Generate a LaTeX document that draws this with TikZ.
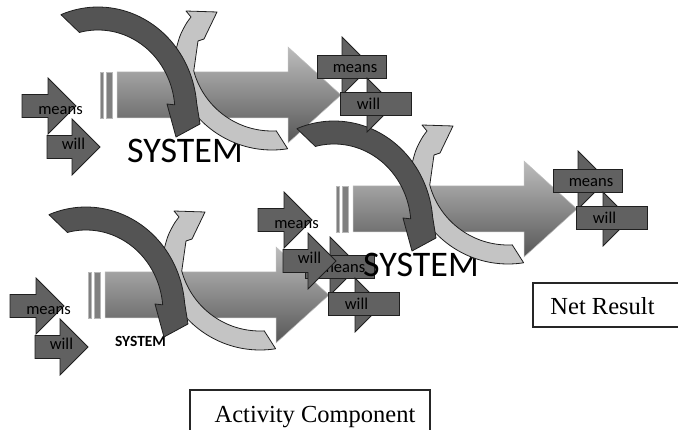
\documentclass[tikz,border=0pt]{standalone}
\usepackage{fontspec}
\setmainfont{Liberation Serif}
\newfontfamily\carlito{Carlito}
\tikzset{
  bigarrow/.style={top color=black!26, bottom color=black!66, draw=black!25, line width=0.5pt},
  barstyle/.style={fill=black!50, draw=black!28, line width=0.4pt},
  darkarc/.style={fill=black!67, draw=black!88, line width=0.8pt, line join=round},
  lightarc/.style={fill=black!23, draw=black!88, line width=0.8pt, line join=round},
  blk/.style={fill=black!62, draw=black!88, line width=0.8pt},
  lbl/.style={font=\carlito\fontsize{16.5}{16.5}\selectfont, text=black, inner sep=0pt, anchor=base},
  systxt/.style={font=\carlito\fontsize{36}{36}\selectfont, text=black, inner sep=0pt, anchor=base west},
  smalltxt/.style={font=\carlito\bfseries\fontsize{15.5}{16}\selectfont, text=black, inner sep=0pt, anchor=base west},
  boxline/.style={draw=black!85, line width=1.2pt},
  boxtxt/.style={font=\fontsize{24.5}{26}\selectfont, text=black, inner sep=0pt, anchor=base}
}
\newcommand\myBig{%
  \path[bigarrow] (117,72) -- (288,72) -- (288,47) -- (341,95) -- (288,143) -- (288,118) -- (117,118) -- cycle;
  \path[barstyle] (100,72) rectangle (103.5,118);
  \path[barstyle] (106,72) rectangle (112.5,118);
}
\newcommand\myDark{%
  \path[darkarc] plot[domain=-112:-5, samples=45] ({98+99*cos(\x)},{112+105*sin(\x)})
    -- (200,124) -- (176,137) -- (167,104)
    -- plot[domain=-5:-104, samples=45] ({98+77*cos(\x)},{112+82*sin(\x)}) -- cycle;
}
\newcommand\myLight{%
  \path[lightarc] plot[domain=81:170, samples=45] ({272+100*cos(\x)},{50+100*sin(\x)})
    -- plot[smooth] coordinates {(173.5,67.4) (175.5,52) (180,36) (186,24) (191,17)}
    -- (186,11) -- (217,12) -- (204,39) -- (198,41)
    -- plot[domain=165:87, samples=45] ({272+81*cos(\x)},{50+81*sin(\x)}) -- cycle;
}
\newcommand\myOut[1]{%
  \path[blk] (342,37) -- (371,66) -- (342,95) -- cycle;
  \path[blk] (317,55) rectangle (386,78);
  \node[lbl] (#1-om) at (355,73) {means};
  \path[blk] (367,78) -- (394,105) -- (367,132) -- cycle;
  \path[blk] (340,92) rectangle (411,115);
  \node[lbl] (#1-ow) at (368.5,110) {will};
}
\newcommand\myIn[1]{%
  \path[blk] (22,94.5) -- (48,94.5) -- (48,78) -- (76,106) -- (48,134) -- (48,117.5) -- (22,117.5) -- cycle;
  \node[lbl] (#1-im) at (60.5,114.5) {means};
  \path[blk] (47,135.5) -- (72,135.5) -- (72,119) -- (100,147) -- (72,175) -- (72,158.5) -- (47,158.5) -- cycle;
  \node[lbl] (#1-iw) at (73.5,150) {will};
}
\begin{document}
\begin{tikzpicture}[x=1pt,y=-1pt]
\useasboundingbox (0,0) rectangle (678,430);
% main striped arrows
\myBig
\begin{scope}[shift={(-12,200)}]\myBig\end{scope}
\begin{scope}[shift={(236,114)}]\myBig\end{scope}
% system labels (1, 2)
\node[systxt] (sys1) at (127,163) {SYSTEM};
\node[smalltxt] (sys2) at (115,347) {SYSTEM};
% curved arrows of systems 1 and 2
\myLight\myDark
\begin{scope}[shift={(-12,200)}]\myLight\myDark\myOut{s2}\end{scope}
\node[systxt] (sys3) at (363,277) {SYSTEM};
\begin{scope}[shift={(236,114)}]\myLight\myDark\end{scope}
\myOut{s1}
\myIn{s1}
\begin{scope}[shift={(-12,200)}]\myIn{s2}\end{scope}
\begin{scope}[shift={(236,114)}]\myIn{s3}\myOut{s3}\end{scope}
% boxes
\draw[boxline] (533,283) rectangle (684,327);
\node[boxtxt] (net) at (602.5,315) {Net Result};
\draw[boxline] (190,390) rectangle (430,445);
\node[boxtxt] (act) at (315,423) {Activity Component};
\end{tikzpicture}
\end{document}
